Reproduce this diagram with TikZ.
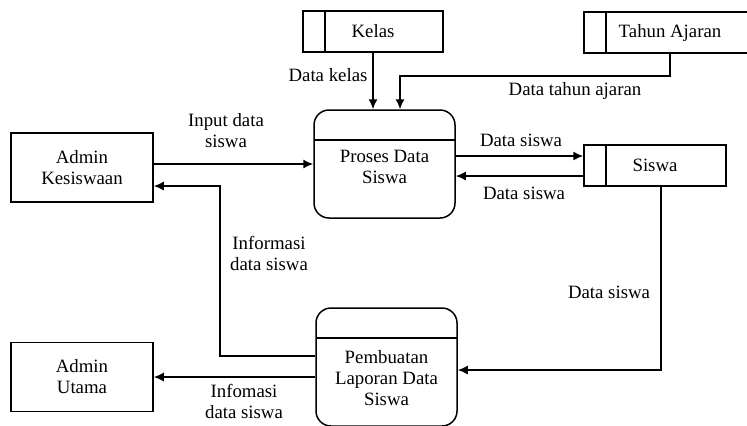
\documentclass[tikz,border=0pt]{standalone}
\usepackage{fontspec}
\setmainfont{Liberation Serif}
\usetikzlibrary{arrows.meta}

\begin{document}
\begin{tikzpicture}[%
        x=0.5pt, y=-0.5pt,
        line width=0.75pt,
        >={Latex[length=5pt,width=4.5pt]},
        node font=\fontsize{9.4}{10.5}\selectfont,
        entity/.style={%
            draw, rectangle, align=center, inner sep=0pt,
            minimum width=71pt, minimum height=34.5pt,
        },
        datastore/.style={%
            draw, rectangle, inner sep=0pt, minimum height=20.5pt,
            path picture={\draw ([xshift=11pt]path picture bounding box.north west) -- ([xshift=11pt]path picture bounding box.south west);},
        },
        process/.style={%
            draw, rectangle, rounded corners=7.5pt, inner sep=0pt, minimum width=70.5pt,
            path picture={\draw ([yshift=-15pt]path picture bounding box.north west) -- ([yshift=-15pt]path picture bounding box.north east);},
        },
        flowlabel/.style={%
            align=center, inner sep=0pt,
        },
    ]

    \clip (0,0) rectangle (747,425);

    \node (kelas) at (373,31.5) [datastore, minimum width=70pt] {Kelas};
    \node (tahun_ajaran) at (670,32.5) [datastore, minimum width=86pt] {Tahun Ajaran};
    \node (siswa) at (655,165.5) [datastore, minimum width=71pt] {Siswa};

    \node (admin_kesiswaan) at (82,167.5) [entity] {Admin\\Kesiswaan};
    \node (admin_utama) at (82,377) [entity] {Admin\\Utama};

    \node (proses) at (384.5,164) [process, minimum height=54pt] {};
    \node (proses_text) at (384.5,167) [flowlabel] {Proses Data\\Siswa};
    \node (laporan) at (386.5,367) [process, minimum height=59pt] {};
    \node (laporan_text) at (386.5,378) [flowlabel] {Pembuatan\\Laporan Data\\Siswa};

    \coordinate (tahun_bend) at (400,76);
    \coordinate (info_bend) at (220,186);

    \draw [->] (kelas.south) -- (kelas.south |- proses.north);
    \draw [->] (tahun_ajaran.south) |- (tahun_bend) -- (tahun_bend |- proses.north);
    \draw [->] (admin_kesiswaan.east |- proses.west) -- (proses.west);
    \draw [->] ([yshift=4pt]proses.east) -- ([yshift=4pt]proses.east -| siswa.west);
    \draw [->] ([yshift=-6pt]proses.east -| siswa.west) -- ([yshift=-6pt]proses.east);
    \draw [->] ([yshift=5.5pt]laporan.west) -| (info_bend) -- (info_bend -| admin_kesiswaan.east);
    \draw [->] ([xshift=3pt]siswa.south) |- ([yshift=-1.5pt]laporan.east);
    \draw [->] (laporan.west |- admin_utama.east) -- (admin_utama.east);

    \node (kelas_flow) at (328,75) [flowlabel] {Data kelas};
    \node (tahun_flow) at (575,91) [flowlabel] {Data tahun ajaran};
    \node (input_flow) at (226,131) [flowlabel] {Input data\\siswa};
    \node (siswa_out_flow) at (521,140) [flowlabel] {Data siswa};
    \node (siswa_in_flow) at (524,193) [flowlabel] {Data siswa};
    \node (info_flow) at (269,253) [flowlabel] {Informasi\\data siswa};
    \node (siswa_laporan_flow) at (609,292) [flowlabel] {Data siswa};
    \node (laporan_flow) at (244,401) [flowlabel] {Infomasi\\data siswa};
\end{tikzpicture}
\end{document}
